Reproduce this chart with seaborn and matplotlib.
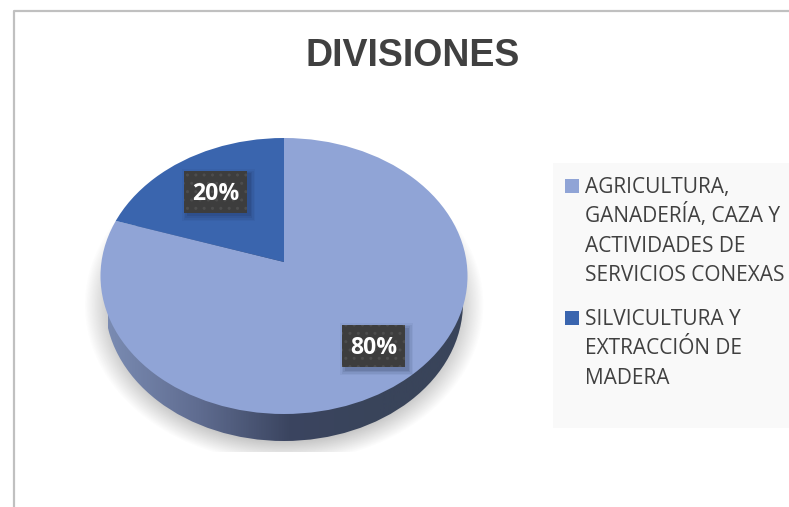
import numpy as np
import matplotlib
matplotlib.use('Agg')
import matplotlib.pyplot as plt
from matplotlib.colors import LinearSegmentedColormap
from matplotlib.patches import Ellipse, Rectangle
import seaborn as sns

title = 'DIVISIONES'
divisiones = ['AGRICULTURA,\nGANADERÍA, CAZA Y\nACTIVIDADES DE\nSERVICIOS CONEXAS',
              'SILVICULTURA Y\nEXTRACCIÓN DE\nMADERA']
porcentajes = [80, 20]
colores = ['#90a4d6', '#3a65ae']

W, H = 789, 507
# pie geometry in pixels
CX, CY, RX, RY = 284, 276, 183.5, 138
APEX_Y = 262

sns.set_theme(style='white')
plt.rcParams['font.family'] = ['Open Sans', 'DejaVu Sans']


def px(x, y):
    return (x - CX) / RX, (CY - y) / RY


fig = plt.figure(figsize=(W / 100, H / 100), dpi=100)
ax = fig.add_axes([0, 0, 1, 1])

# cut the wedges out of a larger pie, the apex sits above the ellipse centre
wedges, _ = ax.pie(porcentajes, colors=sns.color_palette(colores), startangle=90, counterclock=False,
                   center=px(CX, APEX_Y), radius=1.3, wedgeprops={'linewidth': 0, 'zorder': 4})
ax.set_aspect('auto')
x0, y1 = px(0, 0)
x1, y0 = px(W, H)
extent = (x0, x1, y0, y1)

# soft shadow under the pie
xx, yy = np.meshgrid(np.linspace(x0, x1, W), np.linspace(y1, y0, H))
sx, sy = px(284, 305)
d = np.sqrt(((xx - sx) / (200 / RX)) ** 2 + ((yy - sy) / (158 / RY)) ** 2)
shadow = np.zeros((H, W, 4))
shadow[..., :3] = 0.45
shadow[..., 3] = np.clip((1 - d) / 0.2, 0, 1) * 0.6
shadow[452:, :, 3] = 0
ax.imshow(shadow, extent=extent, aspect='auto', zorder=1)

# side of the pie, gradient clipped to a lower ellipse
side_cmap = LinearSegmentedColormap.from_list('side', ['#7a8bb2', '#5f6c90', '#3b4560', '#39445a', '#39445a'])
side = ax.imshow(np.linspace(0, 1, 400).reshape(1, -1), cmap=side_cmap, aspect='auto', zorder=2,
                 extent=(px(108, 0)[0], px(470, 0)[0], y0, y1))
side_clip = Ellipse(px(CX, 303), 2 * 179 / RX, 2, transform=ax.transData, fc='none', ec='none')
ax.add_patch(side_clip)
side.set_clip_path(side_clip)

# top face
top = Ellipse((0, 0), 2, 2, transform=ax.transData, fc='none', ec='none')
ax.add_patch(top)
for w in wedges:
    w.set_clip_on(True)
    w.set_clip_path(top)

# value labels
for valor, (bx, by) in zip(porcentajes, [(342, 325), (184, 171)]):
    ox, oy = px(bx, by + 42)
    # blurred shadow from a few stacked rectangles
    for grow, alpha in zip([5, 3.5, 2, 0.5], [0.05, 0.07, 0.09, 0.12]):
        rx0, ry0 = px(bx + 3 - grow, by + 45 + grow)
        ax.add_patch(Rectangle((rx0, ry0), (63 + 2 * grow) / RX, (42 + 2 * grow) / RY, fc='#14213d', ec='none',
                               alpha=alpha, zorder=5))
    ax.add_patch(Rectangle((ox, oy), 63 / RX, 42 / RY, fc='#3d3d3d', ec='#4d4d4d', lw=0, hatch='..', zorder=5))
    tx, ty = px(bx + 31.5, by + 22.5)
    ax.text(tx, ty, f'{valor}%', color='white', fontsize=16.6, fontweight='bold', ha='center', va='center', zorder=6)

ax.set_xlim(x0, x1)
ax.set_ylim(y0, y1)
ax.axis('off')


def fig_xy(x, y):
    return x / W, 1 - y / H


# chart border
fig.add_artist(plt.Line2D([14 / W, 14 / W, 1], [0, 1 - 11 / H, 1 - 11 / H], color='#c0c0c0', lw=1.6))

fig.text(*fig_xy(412.5, 56), title, fontsize=27, fontweight='bold', family='Liberation Sans',
         color='#404040', ha='center', va='center')

# legend, one text per line so the accents do not change the line pitch
fx, fy = fig_xy(553, 428)
fig.add_artist(Rectangle((fx, fy), 236 / W, 265 / H, transform=fig.transFigure, fc='#f9f9f9', ec='none', zorder=0))
for label, color, sy_ in zip(divisiones, colores, [179, 311]):
    fx, fy = fig_xy(565, sy_ + 14)
    fig.add_artist(Rectangle((fx, fy), 14 / W, 14 / H, transform=fig.transFigure, fc=color, ec='none', zorder=1))
    for i, line in enumerate(label.split('\n')):
        fig.text(*fig_xy(585, sy_ + 14 + i * 29.3), line, fontsize=15, color='#404040', ha='left', va='baseline', zorder=2)

fig.savefig('out.png', dpi=100)
